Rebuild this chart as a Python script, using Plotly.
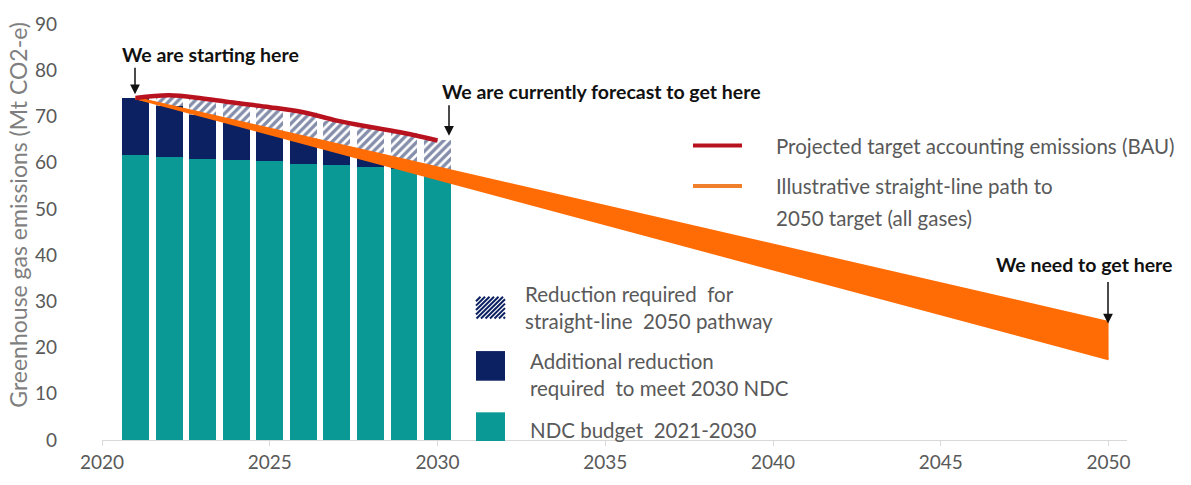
import plotly.graph_objects as go

# ---------------- data ----------------
years = [2021, 2022, 2023, 2024, 2025, 2026, 2027, 2028, 2029, 2030]
ndc_budget = [61.7, 61.3, 60.9, 60.6, 60.3, 59.8, 59.4, 59.0, 58.6, 57.7]
straight_line = [74.0, 72.2, 70.4, 68.6, 66.8, 64.9, 63.1, 61.3, 59.5, 57.7]
bau = [74.0, 74.6, 73.9, 72.9, 72.0, 70.9, 69.1, 67.7, 66.4, 64.8]

path_years = [2021, 2050]
path_upper = [74.0, 25.5]
path_lower = [74.0, 17.5]

x_ticks = [2020, 2025, 2030, 2035, 2040, 2045, 2050]
x_tick_labels = ["2020", "2025", "2030", "2035", "2040", "2045", "2050"]
y_ticks = [0, 10, 20, 30, 40, 50, 60, 70, 80, 90]

# derived stacked segments
navy_seg = [max(s - n, 0) for s, n in zip(straight_line, ndc_budget)]
hatch_seg = [max(b - max(s, n), 0) for b, s, n in zip(bau, straight_line, ndc_budget)]

TEAL = "#0a9994"
NAVY = "#0c2162"
RED = "#b8121e"
ORANGE = "#ff6c05"
GREY = "#595959"
FONT = "Lato"
LEG_SIZE = 20.5
CALL_SIZE = 19.5

# ---------------- layout geometry (pixels) ----------------
W, H = 1191, 485
L, R, T, B = 102, 64, 24, 40
PW, PH = W - L - R, H - T - B


def px(x):
    return (x - L) / PW


def py(y):
    return (H - B - y) / PH


fig = go.Figure()

fig.add_trace(go.Bar(x=years, y=ndc_budget, width=0.8, marker=dict(color=TEAL, line=dict(width=0)),
                     name="NDC budget 2021-2030", showlegend=False))
fig.add_trace(go.Bar(x=years, y=navy_seg, width=0.8, marker=dict(color=NAVY, line=dict(width=0)),
                     name="Additional reduction", showlegend=False))
fig.add_trace(go.Bar(x=years, y=hatch_seg, width=0.8,
                     marker=dict(color="white", line=dict(width=0),
                                 pattern=dict(shape="/", fgcolor="#0a1c55", bgcolor="white",
                                              size=6, solidity=0.55)),
                     name="Reduction required", showlegend=False))

fig.add_trace(go.Scatter(x=path_years, y=path_upper, mode="lines",
                         line=dict(color=ORANGE, width=2.5), showlegend=False, hoverinfo="skip"))
fig.add_trace(go.Scatter(x=path_years, y=path_lower, mode="lines", fill="tonexty",
                         fillcolor=ORANGE, line=dict(color=ORANGE, width=2.5),
                         showlegend=False, hoverinfo="skip"))

fig.add_trace(go.Scatter(x=years, y=bau, mode="lines", line=dict(color=RED, width=4.5, shape="spline"),
                         showlegend=False))

shapes = []
annotations = []

# legend line samples
shapes.append(dict(type="line", xref="paper", yref="paper", x0=px(693), x1=px(742), y0=py(147), y1=py(147),
                   line=dict(color=RED, width=4)))
shapes.append(dict(type="line", xref="paper", yref="paper", x0=px(693), x1=px(742), y0=py(188), y1=py(188),
                   line=dict(color="#f07f2c", width=4)))

# legend boxes
shapes.append(dict(type="rect", xref="paper", yref="paper", x0=px(476), x1=px(505), y0=py(355), y1=py(385),
                   fillcolor=NAVY, line=dict(width=0)))
shapes.append(dict(type="rect", xref="paper", yref="paper", x0=px(476), x1=px(505), y0=py(417), y1=py(446),
                   fillcolor=TEAL, line=dict(width=0)))

# hatch swatch stripes
hx0, hx1, hy0, hy1 = 476, 505, 300, 322
hw, hh = hx1 - hx0, hy1 - hy0
segs = []
c = -hh
while c < hw:
    t0 = max(0, -c)
    t1 = min(hh, hw - c)
    if t1 > t0:
        xa, ya = hx0 + c + t0, hy1 - t0
        xb, yb = hx0 + c + t1, hy1 - t1
        segs.append(f"M {px(xa):.5f} {py(ya):.5f} L {px(xb):.5f} {py(yb):.5f}")
    c += 4.5
shapes.append(dict(type="path", xref="paper", yref="paper", path=" ".join(segs),
                   line=dict(color=NAVY, width=2)))


def text(t, x, y, size=LEG_SIZE, color=GREY, xanchor="left", bold=False):
    annotations.append(dict(text=f"<b>{t}</b>" if bold else t, xref="paper", yref="paper",
                            x=px(x), y=py(y), xanchor=xanchor, yanchor="middle", showarrow=False,
                            font=dict(family=FONT, size=size, color=color)))


# legend texts
text("Projected target accounting emissions (BAU)", 774, 147)
text("Illustrative straight-line path to", 774, 188)
text("2050 target (all gases)", 774, 220)
text("Reduction required  for", 523, 297)
text("straight-line  2050 pathway", 523, 325)
text("Additional reduction", 528, 365)
text("required  to meet 2030 NDC", 528, 392)
text("NDC budget  2021-2030", 528, 435)

# callouts
text("We are starting here", 210, 55, size=CALL_SIZE, color="#111111", xanchor="center", bold=True)
text("We are currently forecast to get here", 601, 92, size=CALL_SIZE, color="#111111", xanchor="center", bold=True)
text("We need to get here", 1084, 267, size=CALL_SIZE, color="#111111", xanchor="center", bold=True)


def arrow(x, y_tip, y_tail):
    annotations.append(dict(text="", xref="paper", yref="paper", x=px(x), y=py(y_tip),
                            ax=0, ay=-(y_tip - y_tail), showarrow=True, arrowhead=2,
                            arrowsize=1.3, arrowwidth=1.5, arrowcolor="#111111"))


arrow(135, 95, 67)
arrow(449, 137, 105)
arrow(1108, 327, 284)

# y axis title
annotations.append(dict(text="Greenhouse gas emissions (Mt CO2-e)", xref="paper", yref="paper",
                        x=px(18), y=py(217), textangle=-90, showarrow=False,
                        xanchor="center", yanchor="middle",
                        font=dict(family=FONT, size=23, color="#7f7f7f")))

fig.update_layout(
    width=W, height=H, autosize=False,
    margin=dict(l=L, r=R, t=T, b=B, pad=0),
    paper_bgcolor="white", plot_bgcolor="white",
    barmode="stack", bargap=0.2,
    showlegend=False,
    shapes=shapes, annotations=annotations,
    font=dict(family=FONT, size=19, color=GREY),
    xaxis=dict(range=[2020, 2050.55], tickvals=x_ticks, ticktext=x_tick_labels,
               showline=True, linecolor="#d9d9d9", linewidth=1, ticks="outside", ticklen=5,
               tickcolor="#d9d9d9", showgrid=False, zeroline=False,
               tickfont=dict(family=FONT, size=19, color=GREY)),
    yaxis=dict(range=[0, 90], tickvals=y_ticks, showline=False, showgrid=False, zeroline=False,
               ticks="", ticklabelstandoff=44,
               tickfont=dict(family=FONT, size=19, color=GREY)),
)

fig.write_html("out.html", config={"displayModeBar": False},
               post_script="document.body.style.margin='0';")
